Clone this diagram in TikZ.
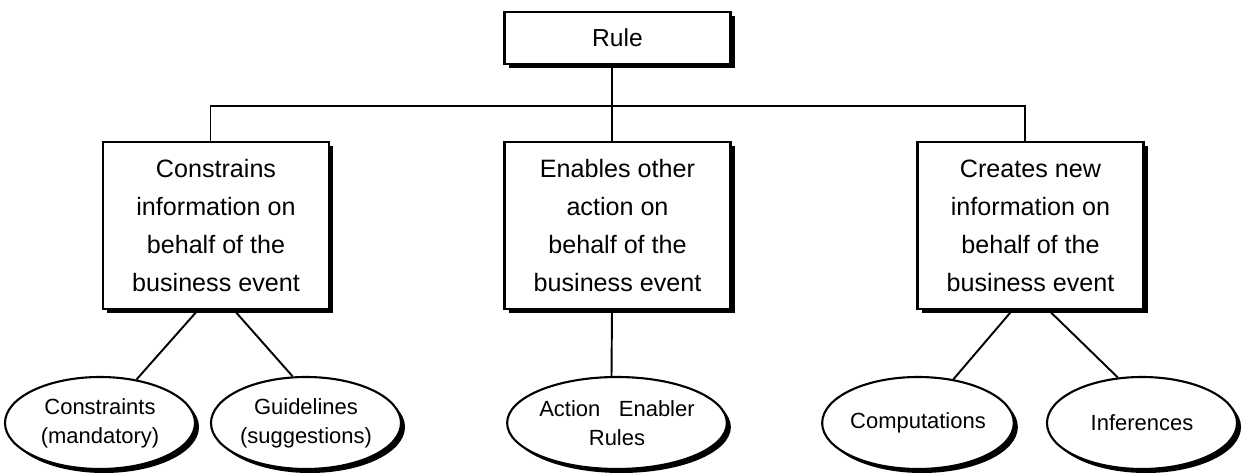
\documentclass[tikz,border=0pt]{standalone}
\usepackage{fontspec}
\setmainfont{Liberation Sans}
\usetikzlibrary{shapes.geometric,shadows}

\begin{document}
\begin{tikzpicture}[
   box/.style={draw,line width=1.2pt,fill=white,align=center,minimum width=4.52cm,
     drop shadow={shadow xshift=0.08cm,shadow yshift=-0.08cm,fill=black,opacity=1}},
   kind/.style={box,minimum height=3.34cm,font=\fontsize{14.3}{21.6}\selectfont},
   oval/.style={ellipse,draw,line width=1.2pt,fill=white,align=center,inner sep=0pt,
     minimum width=3.8cm,minimum height=1.84cm,font=\fontsize{12.5}{16.5}\selectfont,
     drop shadow={shadow xshift=0.08cm,shadow yshift=-0.08cm,fill=black,opacity=1}},
   link/.style={line width=1.1pt}]
   \useasboundingbox (0,0) rectangle (24.84,-9.5);
   % top of the tree
   \node[box,minimum height=1.04cm,font=\fontsize{14}{17}\selectfont] (rule) at (12.35,-0.76) {Rule};
   % the three kinds of rule
   \node[kind] (cons) at (4.32,-4.51) {Constrains\\information on\\behalf of the\\business event};
   \node[kind] (enab) at (12.35,-4.51) {Enables other\\action on\\behalf of the\\business event};
   \node[kind] (cret) at (20.61,-4.51) {Creates new\\information on\\behalf of the\\business event};
   % the leaves
   \node[oval] (mand) at (2.0,-8.46) {Constraints\\(mandatory)};
   \node[oval] (sugg) at (6.12,-8.46) {Guidelines\\(suggestions)};
   \node[oval] (acte) at (12.34,-8.46) {Action\hspace{0.25cm} Enabler\\Rules};
   \node[oval] (comp) at (18.36,-8.46) {Computations};
   \node[oval] (infe) at (22.84,-8.46) {Inferences};
   \coordinate (bar) at (12.24,-2.12);
   \draw[link] ([xshift=-0.11cm]rule.south) -- (bar);
   \draw[link] ([xshift=-0.11cm]cons.north) |- (bar) -| ([xshift=-0.11cm]cret.north);
   \draw[link] (bar) -- ([xshift=-0.11cm]enab.north);
   \draw[link] ([xshift=-0.36cm]cons.south) -- (mand.50);
   \draw[link] ([xshift=0.36cm]cons.south) -- (sugg.106);
   \draw[link] ([xshift=-0.11cm]enab.south) -- ([xshift=-0.11cm]acte.north);
   \draw[link] ([xshift=-0.36cm]cret.south) -- (comp.51);
   \draw[link] ([xshift=0.36cm]cret.south) -- (infe.118);
\end{tikzpicture}
\end{document}
